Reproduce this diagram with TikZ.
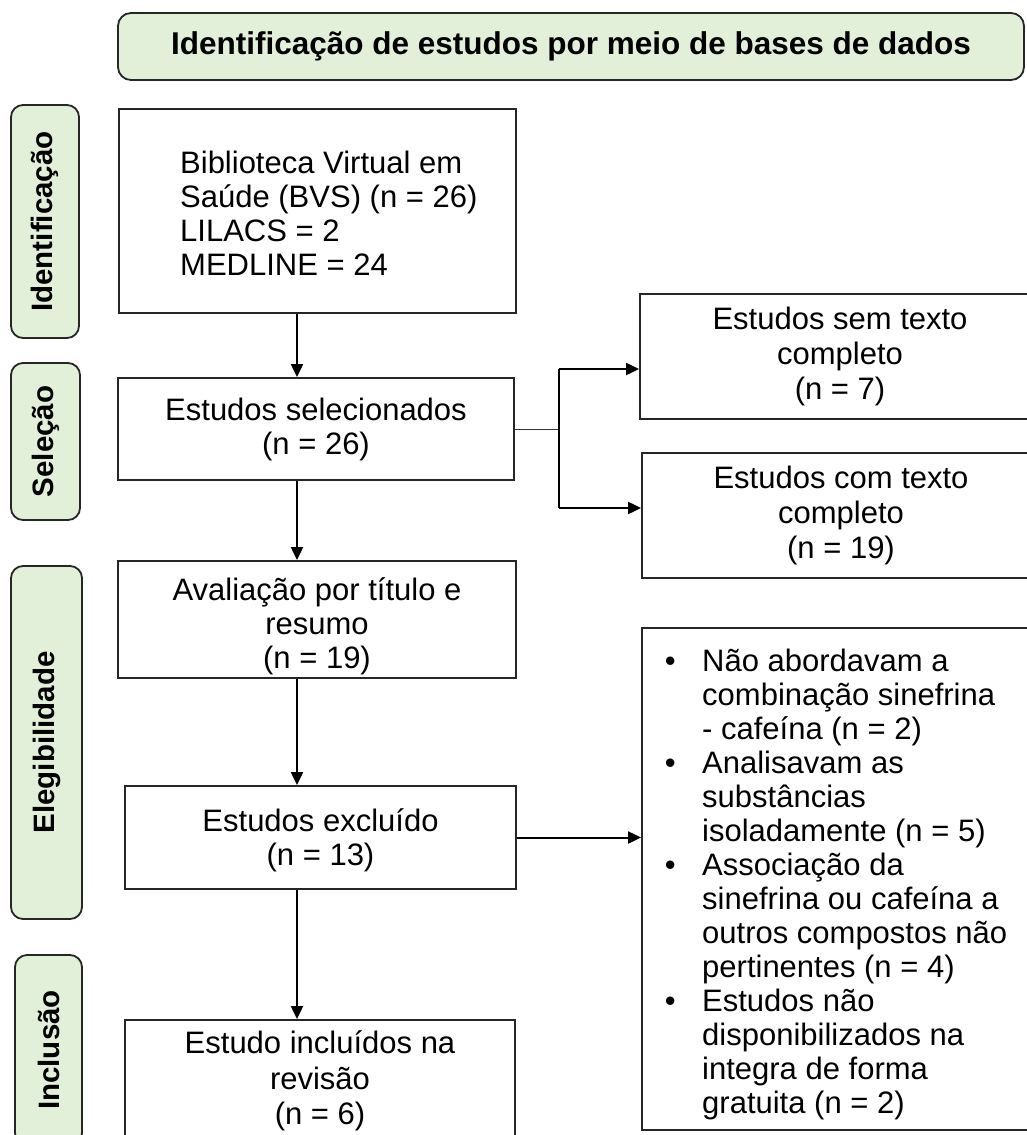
\documentclass[tikz,border=0pt]{standalone}
\usepackage{fontspec}
\setmainfont{Liberation Sans}
\usetikzlibrary{arrows.meta,calc}
\definecolor{phasegreen}{HTML}{E2EFD9}
\definecolor{edgecol}{HTML}{262626}
\newcommand{\blitem}[1]{\makebox[37.4pt][l]{•}#1}
\newcommand{\blcont}[1]{\hspace*{37.4pt}#1}
\begin{document}
\begin{tikzpicture}[x=1pt,y=-1pt,
  txt/.style={font=\fontsize{31}{34}\selectfont},
  box/.style={draw=edgecol, line width=1.8pt, fill=white, inner sep=0pt, align=center, txt},
  phase/.style={draw=edgecol, line width=1.8pt, fill=phasegreen, rounded corners=12pt, inner sep=0pt,
    font=\bfseries\fontsize{29.5}{34}\selectfont},
  arr/.style={draw=black, line width=2pt, -{Triangle[length=13pt,width=12pt]}},
  thinline/.style={draw=black, line width=1.2pt},
]
\useasboundingbox (0,0) rectangle (1027,1135);
\clip (0,0) rectangle (1027,1135);

% title
\node[phase, rounded corners=13pt, minimum width=906, minimum height=67,
  font=\bfseries\fontsize{31.5}{34}\selectfont] (title) at (571,46.5)
  {Identificação de estudos por meio de bases de dados};

% phase labels
\node[phase, rotate=90, minimum width=233, minimum height=68] (pId) at (45,221.5) {Identificação};
\node[phase, rotate=90, minimum width=157, minimum height=69] (pSel) at (45.5,441.5) {Seleção};
\node[phase, rotate=90, minimum width=353, minimum height=71] (pEle) at (46.5,742.5) {Elegibilidade};
\node[phase, rotate=90, minimum width=190, minimum height=67] (pInc) at (48.5,1050) {Inclusão};

% main boxes
\node[box, minimum width=397, minimum height=204] (bvs) at (317.5,211) {};
\node[txt, anchor=west, align=left, inner sep=0pt] (bvstext) at (180,213)
  {Biblioteca Virtual em\\Saúde (BVS) (n = 26)\\LILACS = 2\\MEDLINE = 24};
\node[box, minimum width=396, minimum height=102] (sel) at (316,429) {Estudos selecionados\\(n = 26)};
\node[box, minimum width=400, minimum height=125, font=\fontsize{31}{35}\selectfont] (sem) at (840,356.5) {Estudos sem texto\\completo\\(n = 7)};
\node[box, minimum width=398, minimum height=125, font=\fontsize{31}{35}\selectfont] (com) at (841,515.5) {Estudos com texto\\completo\\(n = 19)};
\node[box, minimum width=398, minimum height=117] (ava) at (317,619.5) {};
\node[txt, align=center, inner sep=0pt] (avatext) at (317,626.5) {Avaliação por título e\\resumo\\(n = 19)};
\node[box, minimum width=391, minimum height=103] (exc) at (320.5,837.5) {};
\node[txt, align=center, inner sep=0pt] (exctext) at (320.5,840) {Estudos excluído\\(n = 13)};
\node[box, minimum width=398, minimum height=502] (bul) at (841,879) {};
\node[txt, anchor=north west, align=left, inner sep=0pt] (bultext) at (664.6,649)
  {\blitem{Não abordavam a}\\
   \blcont{combinação sinefrina}\\
   \blcont{- cafeína (n = 2)}\\
   \blitem{Analisavam as}\\
   \blcont{substâncias}\\
   \blcont{isoladamente (n = 5)}\\
   \blitem{Associação da}\\
   \blcont{sinefrina ou cafeína a}\\
   \blcont{outros compostos não}\\
   \blcont{pertinentes (n = 4)}\\
   \blitem{Estudos não}\\
   \blcont{disponibilizados na}\\
   \blcont{integra de forma}\\
   \blcont{gratuita (n = 2)}};
\node[box, minimum width=390, minimum height=132] (inc) at (320,1086) {};
\node[align=center, inner sep=0pt, font=\fontsize{31}{35.5}\selectfont] (inctext) at (320,1081) {Estudo incluídos na\\revisão\\(n = 6)};

% connectors
\coordinate (ax) at (297,0);
\coordinate (brt) at (559,369);
\coordinate (brb) at (559,508);
\draw[arr] (bvs.south -| ax) -- (sel.north -| ax);
\draw[arr] (sel.south -| ax) -- (ava.north -| ax);
\draw[arr] (ava.south -| ax) -- (exc.north -| ax);
\draw[arr] (exc.south -| ax) -- (inc.north -| ax);
\draw[line width=0.9pt, draw=black!80] (sel.east) -- (sel.east -| brt);
\draw[thinline] (brt) -- (brb);
\draw[arr] (brt) -- (brt -| sem.west);
\draw[arr] (brb) -- (brb -| com.west);
\draw[arr] (exc.east) -- (exc.east -| bul.west);
\end{tikzpicture}
\end{document}
